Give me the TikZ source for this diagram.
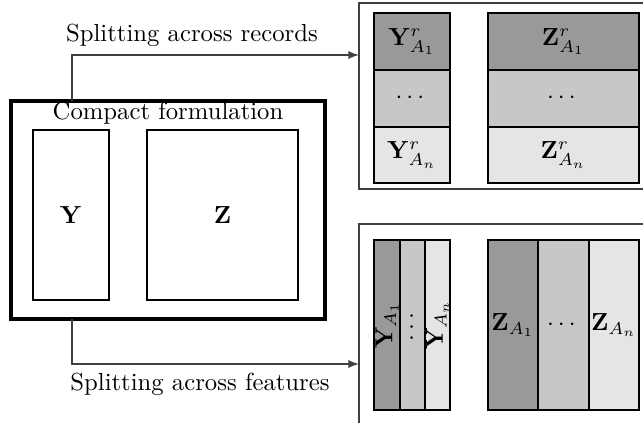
\documentclass[tikz,border=0pt]{standalone}
\usepackage{amsmath}
\begin{document}
\begin{tikzpicture}[x=0.405pt,y=-0.405pt,
  cell/.style={draw=black, line width=0.5pt},
  outer/.style={draw=black!75, line width=0.7pt},
  conn/.style={draw=black!75, line width=0.5pt, -latex},
  dk/.style={cell, fill=black!40},
  md/.style={cell, fill=black!22},
  lt/.style={cell, fill=black!10}]
\clip (0,0) rectangle (643,423);
% compact formulation
\draw[line width=1.3pt] (11,101) rectangle (325,319);
\node (title) at (168,113) {Compact formulation};
\draw[cell] (33,130) rectangle (109,300);
\node (Y) at (71,215) {$\mathbf{Y}$};
\draw[cell] (147,130) rectangle (298,300);
\node (Z) at (222.5,215) {$\mathbf{Z}$};
% connector coordinates
\coordinate (s1) at (72,101);
\coordinate (e1) at (359,55);
\coordinate (s2) at (72,319);
\coordinate (e2) at (359,364);
\draw[conn] (s1) |- (e1);
\draw[conn] (s2) |- (e2);
\node (l1) at (192,35) {Splitting across records};
\node (l2) at (200,384) {Splitting across features};
% right boxes
\draw[outer] (700,3) -| (359,189) -- (700,189);
\draw[outer] (700,224) -| (359,450);
% records split
\draw[dk] (374,13) rectangle (450,70);
\draw[md] (374,70) rectangle (450,127);
\draw[lt] (374,127) rectangle (450,183);
\node (yr1) at (412,41.5) {$\mathbf{Y}^r_{A_1}$};
\node (yr2) at (412,98.5) {$\cdots$};
\node (yr3) at (412,155) {$\mathbf{Y}^r_{A_n}$};
\draw[dk] (488,13) rectangle (639,70);
\draw[md] (488,70) rectangle (639,127);
\draw[lt] (488,127) rectangle (639,183);
\node (zr1) at (563.5,41.5) {$\mathbf{Z}^r_{A_1}$};
\node (zr2) at (563.5,98.5) {$\cdots$};
\node (zr3) at (563.5,155) {$\mathbf{Z}^r_{A_n}$};
% features split
\draw[dk] (374,240) rectangle (400,410);
\draw[md] (400,240) rectangle (425,410);
\draw[lt] (425,240) rectangle (450,410);
\node[rotate=90] (yf1) at (387,325) {$\mathbf{Y}_{A_1}$};
\node[rotate=90] (yf2) at (412.5,325) {$\cdots$};
\node[rotate=90] (yf3) at (437.5,325) {$\mathbf{Y}_{A_n}$};
\draw[dk] (488,240) rectangle (538,410);
\draw[md] (538,240) rectangle (589,410);
\draw[lt] (589,240) rectangle (639,410);
\node (zf1) at (513,325) {$\mathbf{Z}_{A_1}$};
\node (zf2) at (563.5,325) {$\cdots$};
\node (zf3) at (614,325) {$\mathbf{Z}_{A_n}$};
\end{tikzpicture}
\end{document}
